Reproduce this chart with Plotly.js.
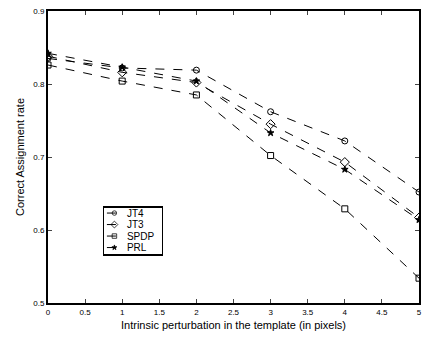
<!DOCTYPE html>
<html><head><meta charset="utf-8">
<script src="https://cdn.plot.ly/plotly-3.0.1.min.js"></script>
<style>body{margin:0;background:#fff}#c{width:422px;height:337px}</style>
</head><body><div id="c"></div>
<script>
var xs = [0, 1, 2, 3, 4, 5];
var names = ["JT4", "JT3", "SPDP", "PRL"];
var jt4 = [0.835, 0.822, 0.819, 0.762, 0.722, 0.652];
var jt3 = [0.838, 0.816, 0.802, 0.745, 0.693, 0.617];
var spdp = [0.826, 0.804, 0.785, 0.702, 0.629, 0.534];
var prl = [0.842, 0.823, 0.804, 0.733, 0.683, 0.614];
var xticks = [0, 0.5, 1, 1.5, 2, 2.5, 3, 3.5, 4, 4.5, 5];
var yticks = [0.5, 0.6, 0.7, 0.8, 0.9];

var series = [jt4, jt3, spdp, prl];
var symbols = ["circle-open", "diamond-open", "square-open", "star"];
var sizes = [6, 7, 6, 5];
var traces = series.map(function(v, i){
  return {x: xs, y: v, name: names[i], type: "scatter", mode: "lines+markers",
    line: {color: "#000", width: 1, dash: "dash"},
    marker: {symbol: symbols[i], size: sizes[i], color: "#000", line: {color: "#000", width: 1}}};
});
var layout = {
  width: 422, height: 337,
  margin: {l: 48, r: 3, t: 11, b: 34},
  paper_bgcolor: "#fff", plot_bgcolor: "#fff",
  font: {family: "Liberation Sans, Arial, sans-serif", color: "#000", size: 8},
  showlegend: true,
  legend: {x: 0.148, y: 0.332, xanchor: "left", yanchor: "top", bordercolor: "#000", borderwidth: 1.5,
    bgcolor: "#fff", font: {size: 10}, tracegroupgap: 0, itemwidth: 30},
  xaxis: {range: [0, 5], tickvals: xticks, ticktext: xticks.map(String), ticks: "inside", ticklen: 4,
    showgrid: false, zeroline: false, showline: true, linewidth: 2, linecolor: "#000", mirror: "ticks",
    automargin: false,
    title: {text: "Intrinsic perturbation in the template (in pixels)", font: {size: 11}, standoff: 6},
    tickfont: {size: 8}},
  yaxis: {range: [0.5, 0.9], tickvals: yticks, ticktext: yticks.map(function(t){return String(t);}), ticks: "inside", ticklen: 4,
    showgrid: false, zeroline: false, showline: true, linewidth: 2, linecolor: "#000", mirror: "ticks",
    automargin: false,
    title: {text: "Correct Assignment rate", font: {size: 11}, standoff: 6},
    tickfont: {size: 8}}
};
var gd = document.getElementById("c");
Plotly.newPlot(gd, traces, layout, {staticPlot: true, displayModeBar: false}).then(function(){
  // compact the legend to match the original's tight layout
  var leg = gd.querySelector(".legend");
  if (!leg) return;
  var W = 59, H = 48, step = 11.5, top = 7;
  var bg = leg.querySelector("rect.bg");
  if (bg) { bg.setAttribute("width", W); bg.setAttribute("height", H); }
  gd.querySelectorAll("clipPath rect").forEach(function(r){
    var cp = r.parentNode; if (cp && /legend/.test(cp.id)) { r.setAttribute("width", W); r.setAttribute("height", H); }
  });
  var items = leg.querySelectorAll(".traces");
  items.forEach(function(g, i){
    g.setAttribute("transform", "translate(0," + (top + i * step) + ")");
    g.querySelectorAll(".legendlines path").forEach(function(p){ p.setAttribute("d", "M4,0h15"); });
    g.querySelectorAll(".legendpoints path").forEach(function(p){ p.setAttribute("transform", "translate(11.5,0) scale(0.75)"); });
    var t = g.querySelector("text.legendtext");
    if (t) { t.setAttribute("x", 24); }
    var r = g.querySelector("rect.legendtoggle");
    if (r) { r.setAttribute("width", W); }
  });
});
</script></body></html>
